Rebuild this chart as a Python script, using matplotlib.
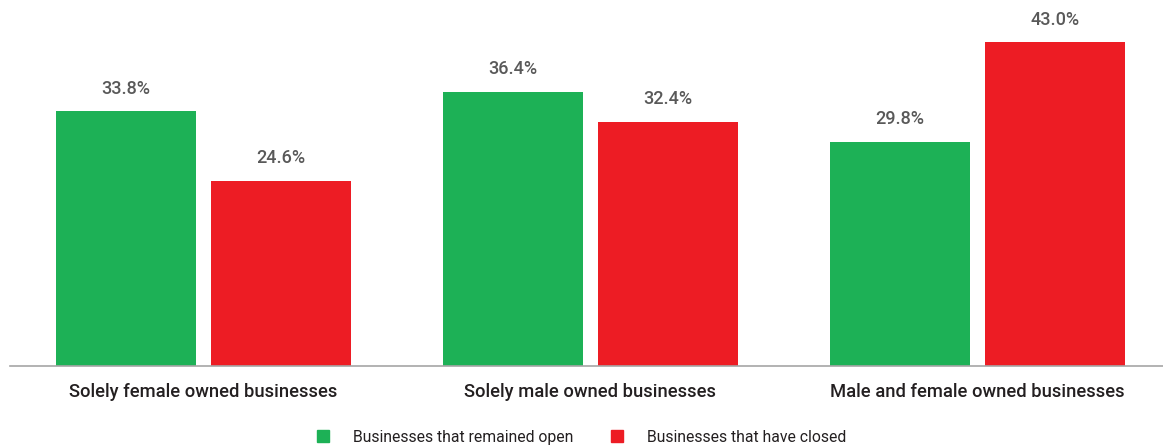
import matplotlib
matplotlib.use("Agg")
import matplotlib.pyplot as plt
from matplotlib.patches import Patch
import numpy as np
from matplotlib import font_manager

categories = ["Solely female owned businesses", "Solely male owned businesses", "Male and female owned businesses"]
series_names = ["Businesses that remained open", "Businesses that have closed"]
open_vals = [33.8, 36.4, 29.8]
closed_vals = [24.6, 32.4, 43.0]

names = {f.name for f in font_manager.fontManager.ttflist}
fam = ["Liberation Sans Narrow", "DejaVu Sans"] if "Liberation Sans Narrow" in names else ["Roboto", "DejaVu Sans"]
plt.rcParams['font.family'] = fam

green = "#1db156"
red = "#ed1c24"

fig = plt.figure(figsize=(11.63, 4.48), dpi=100)
ax = fig.add_axes([10/1163, 82/448, 1153/1163, 366/448])
x = np.arange(len(categories))
w = 0.362
off = 0.2
b1 = ax.bar(x - off, open_vals, w, color=green)
b2 = ax.bar(x + off, closed_vals, w, color=red)
for bars, vals in ((b1, open_vals), (b2, closed_vals)):
    for r, v in zip(bars, vals):
        ax.text(r.get_x() + r.get_width()/2, v + 1.8, f"{v:.1f}%", ha="center", va="bottom",
                fontsize=13, color="#595959", fontweight="medium")
ax.set_xlim(-0.5, 2.48)
ax.set_ylim(0, 48.6)
for s in ["top", "right", "left"]:
    ax.spines[s].set_visible(False)
ax.spines["bottom"].set_color("#a6a6a6")
ax.spines["bottom"].set_linewidth(1.2)
ax.set_yticks([])
ax.set_xticks(x)
ax.set_xticklabels(categories, fontsize=13.2, color="#231f20", fontweight="medium")
ax.tick_params(axis="x", length=0, pad=12)

handles = [Patch(color=green), Patch(color=red)]
fig.legend(handles, series_names, loc="center", bbox_to_anchor=(0.5, 11/448), ncol=2, frameon=False,
           fontsize=11.3, handlelength=0.77, handleheight=0.77, handletextpad=1.5, columnspacing=2.4,
           labelcolor="#231f20")
fig.savefig("out.png", dpi=100)
